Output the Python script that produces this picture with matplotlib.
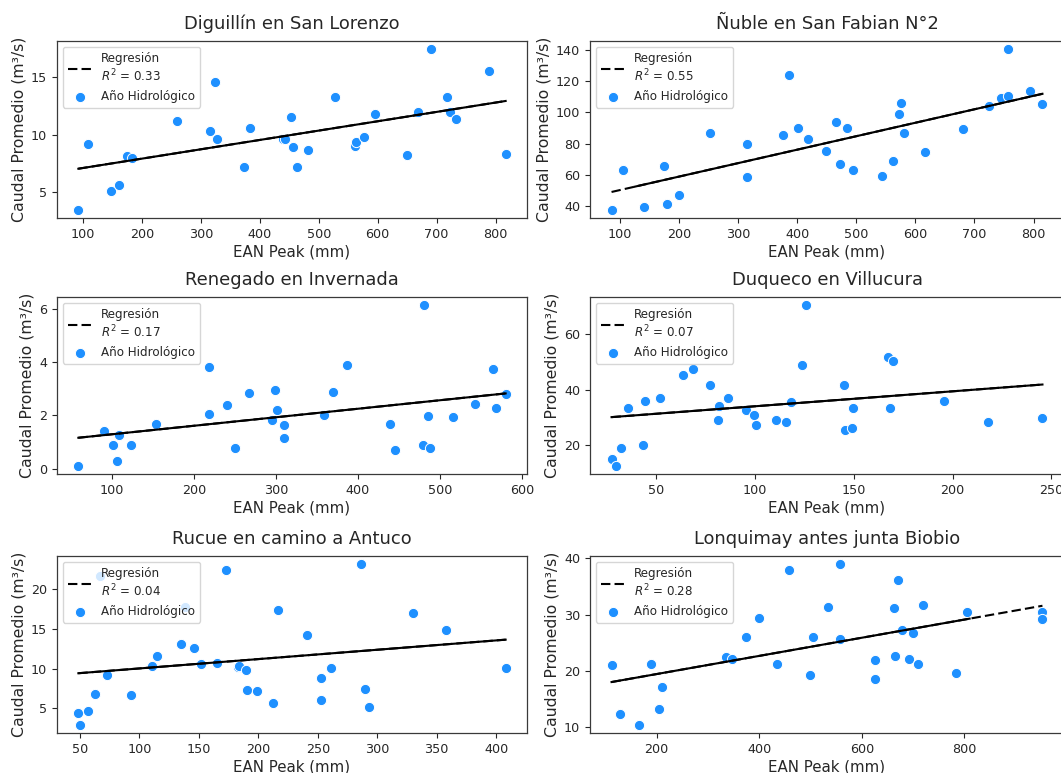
import numpy as np
import matplotlib
matplotlib.use("Agg")
import matplotlib.pyplot as plt
from matplotlib.lines import Line2D
from matplotlib.ticker import MultipleLocator

# ---------------- data ----------------
titles = ["Diguillín en San Lorenzo", "Ñuble en San Fabian N°2",
          "Renegado en Invernada", "Duqueco en Villucura",
          "Rucue en camino a Antuco", "Lonquimay antes junta Biobio"]

digu_x = [92, 108, 148, 161, 175, 183, 260, 316, 323, 327, 373, 383, 440, 443, 453, 457, 463,
          482, 528, 561, 563, 576, 595, 649, 669, 691, 718, 723, 732, 788, 817]
digu_y = [3.45, 9.23, 5.06, 5.58, 8.12, 7.97, 11.21, 10.28, 14.62, 9.66, 7.16, 10.60, 9.61, 9.66,
          11.50, 8.94, 7.22, 8.67, 13.25, 9.0, 9.37, 9.78, 11.82, 8.21, 11.94, 17.45, 13.31, 12.0,
          11.33, 15.50, 8.29]

nuble_x = [86, 106, 141, 175, 179, 200, 253, 316, 316, 376, 386, 401, 418, 449, 466, 473, 484,
           495, 544, 563, 573, 575, 580, 616, 680, 725, 745, 757, 757, 794, 815]
nuble_y = [37.6, 63.1, 39.4, 65.9, 41.5, 47.3, 87.0, 79.9, 59.0, 85.7, 123.8, 89.8, 83.1, 75.3,
           93.9, 66.9, 90.0, 63.1, 59.6, 69.1, 98.8, 105.9, 86.6, 74.5, 89.4, 104.4, 109.0,
           140.6, 110.3, 113.7, 105.5]

rene_x = [59, 90, 101, 106, 108, 123, 154, 218, 218, 240, 250, 267, 295, 299, 301, 310, 310,
          359, 370, 386, 439, 445, 479, 481, 485, 488, 516, 543, 565, 568, 580]
rene_y = [0.10, 1.43, 0.87, 0.27, 1.28, 0.88, 1.69, 3.83, 2.05, 2.37, 0.76, 2.82, 1.82, 2.94,
          2.21, 1.65, 1.16, 2.00, 2.87, 3.88, 1.67, 0.69, 0.90, 6.14, 1.97, 0.76, 1.95, 2.43,
          3.74, 2.26, 2.79]

duq_x = [27.5, 29.9, 32.2, 36.0, 43.6, 44.3, 51.9, 63.8, 68.9, 77.2, 81.3, 82.0, 86.5, 95.7,
         99.5, 100.5, 110.7, 115.6, 118.3, 124.0, 126.0, 145.0, 145.7, 149.3, 149.8, 167.3,
         168.5, 170.1, 195.7, 218.0, 245.5]
duq_y = [15.0, 12.3, 18.8, 33.2, 20.0, 36.0, 37.1, 45.1, 47.4, 41.5, 29.1, 34.1, 36.8, 32.4,
         30.8, 27.2, 28.8, 28.3, 35.3, 48.9, 70.6, 41.7, 25.4, 26.0, 33.2, 51.6, 33.2, 50.2,
         35.8, 28.3, 29.8]

rucue_x = [48.6, 50.0, 56.3, 62.8, 66.8, 72.5, 92.6, 110.3, 114.8, 135.3, 138.4, 145.5, 152.1,
           164.9, 173.1, 182.5, 183.9, 189.3, 190.5, 198.7, 212.1, 216.9, 240.5, 253.0, 253.0,
           260.7, 286.0, 289.4, 293.1, 330.0, 358.0, 408.0]
rucue_y = [4.49, 2.93, 4.62, 6.86, 21.6, 9.18, 6.69, 10.28, 11.63, 13.11, 17.76, 12.60, 10.62,
           10.70, 22.32, 10.20, 10.28, 9.77, 7.37, 7.15, 5.68, 17.34, 14.21, 8.80, 6.10, 10.11,
           23.12, 7.41, 5.17, 16.96, 14.80, 10.07]

lonq_x = [112, 129, 166, 189, 205, 211, 335, 347, 375, 399, 435, 458, 498, 505, 534, 558, 558,
          625, 625, 662, 664, 671, 678, 692, 700, 710, 720, 783, 804, 952, 952]
lonq_y = [21.0, 12.4, 10.4, 21.3, 13.2, 17.1, 22.4, 22.1, 26.0, 29.4, 21.3, 38.0, 19.3, 26.0,
          31.3, 39.0, 25.7, 21.9, 18.6, 31.1, 22.7, 36.2, 27.2, 22.2, 26.8, 21.2, 31.8, 19.7,
          30.5, 30.4, 29.3]

xs = [digu_x, nuble_x, rene_x, duq_x, rucue_x, lonq_x]
ys = [digu_y, nuble_y, rene_y, duq_y, rucue_y, lonq_y]

# regression lines: slope, intercept, R^2
slopes = [0.00813, 0.0862, 0.003194, 0.0542, 0.01172, 0.01614]
intercepts = [6.29, 41.7, 0.97, 28.5, 8.85, 16.22]
r2 = [0.33, 0.55, 0.17, 0.07, 0.04, 0.28]
# x-range of the solid (overlaid) line; None = full data range
solid_lo = [None, 125, None, None, None, None]
solid_hi = [None, None, None, None, None, 810]

# tick steps
x_steps = [100, 100, 100, 50, 50, 200]
y_steps = [5, 20, 2, 20, 5, 10]

# ---------------- figure ----------------
W, H = 1061, 773
fig = plt.figure(figsize=(W / 100, H / 100), dpi=100)

col_x = [57, 590]
col_w = [470, 474]
row_top = [41, 297, 556]
ax_h = 177

point_color = "#1E90FF"
txt_color = "#262626"

for i in range(6):
    r, c = divmod(i, 2)
    left = col_x[c] / W
    bottom = 1 - (row_top[r] + ax_h) / H
    ax = fig.add_axes([left, bottom, col_w[c] / W, ax_h / H])

    x = np.array(xs[i], dtype=float)
    y = np.array(ys[i], dtype=float)

    ax.scatter(x, y, s=54, color=point_color, edgecolor="white", linewidth=0.7, zorder=3,
               label="Año Hidrológico")

    xl = np.array([x.min(), x.max()])
    ax.plot(xl, slopes[i] * xl + intercepts[i], color="black", lw=1.5, ls=(0, (4.5, 2)), zorder=4)
    lo = x.min() if solid_lo[i] is None else solid_lo[i]
    hi = x.max() if solid_hi[i] is None else solid_hi[i]
    xsl = np.array([lo, hi])
    ax.plot(xsl, slopes[i] * xsl + intercepts[i], color="black", lw=1.5, zorder=5)

    handles = [Line2D([], [], color="black", lw=1.5, ls=(0, (4.5, 2))),
               ax.collections[0]]
    labels = ["Regresión\n$R^2$ = %.2f" % r2[i], "Año Hidrológico"]
    leg = ax.legend(handles, labels, loc="upper left", fontsize=8.6, frameon=True,
                    handlelength=2.0, borderaxespad=0.5)
    for t in leg.get_texts():
        t.set_color(txt_color)

    ax.xaxis.set_major_locator(MultipleLocator(x_steps[i]))
    ax.yaxis.set_major_locator(MultipleLocator(y_steps[i]))

    ax.set_title(titles[i], fontsize=12.9, color=txt_color, pad=8.5)
    ax.set_xlabel("EAN Peak (mm)", fontsize=10.8, color=txt_color, labelpad=3)
    ax.set_ylabel("Caudal Promedio (m³/s)", fontsize=11.3, color=txt_color, labelpad=3)
    ax.tick_params(labelsize=9.2, colors=txt_color, length=3.5, width=0.8)
    for sp in ax.spines.values():
        sp.set_color("#3a3a3a")
        sp.set_linewidth(0.9)

fig.savefig("out.png", dpi=100)
